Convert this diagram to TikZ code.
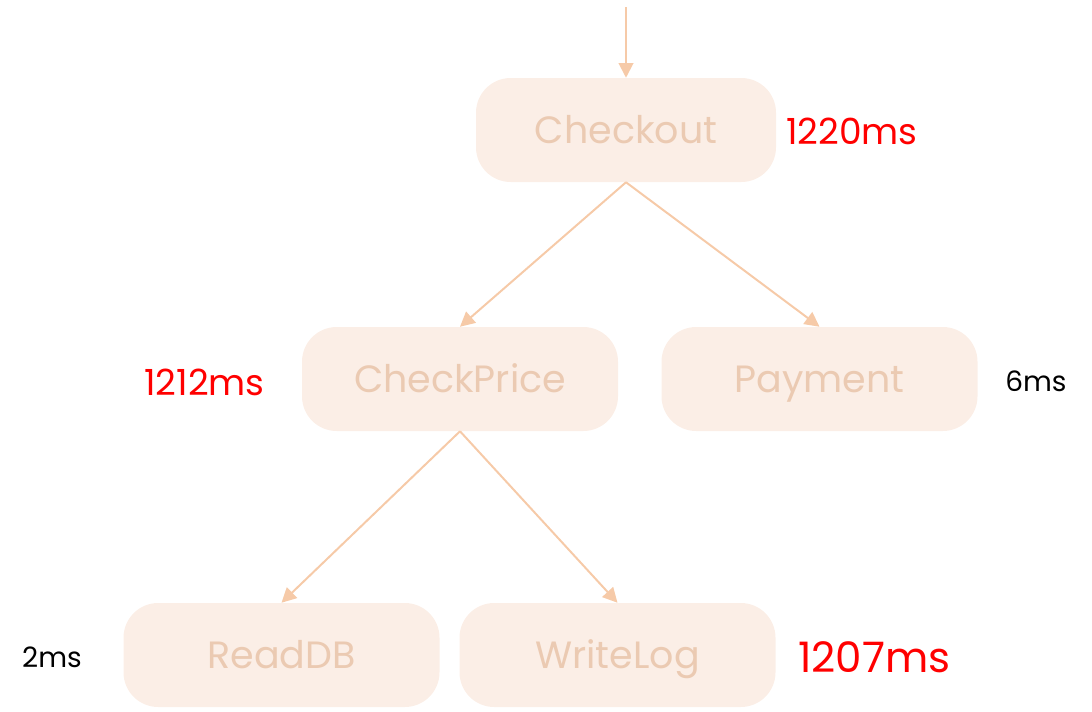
\documentclass[tikz,border=0pt]{standalone}
\usepackage{fontspec}
\setmainfont{Poppins}
\usetikzlibrary{arrows.meta}
\definecolor{boxfill}{RGB}{251,238,230}
\definecolor{boxtext}{RGB}{235,202,178}
\definecolor{linkcol}{RGB}{246,202,168}
\definecolor{hot}{RGB}{255,0,0}
\tikzset{
  svc/.style={fill=boxfill, draw=none, rounded corners=26pt, minimum height=78pt,
    minimum width=237pt, text=boxtext, font=\fontsize{28.5}{33}\selectfont, inner sep=0pt,
    text height=20pt, text depth=0pt},
  call/.style={draw=linkcol, line width=1.5pt, -{Triangle[length=11pt,width=11pt]}},
  lat/.style={font=\fontsize{27}{32}\selectfont, inner sep=0pt, text height=19pt, text depth=0pt},
  latsmall/.style={font=\fontsize{21}{25}\selectfont, inner sep=0pt, text height=14.7pt, text depth=0pt},
}
\begin{document}
\begin{tikzpicture}[x=0.75pt,y=-0.75pt]
\useasboundingbox (0,0) rectangle (1092,711);
% service call tree
\node[svc, minimum width=225pt] (ck) at (626,130) {Checkout};
\node[svc] (cp) at (460,379) {CheckPrice};
\node[svc] (pay) at (819.5,379) {Payment};
\node[svc] (rd) at (281.5,655) {ReadDB};
\node[svc] (wl) at (617.5,655) {WriteLog};
% entry point
\coordinate (entry) at (626,7);
\draw[call] (entry) -- (ck.north);
\draw[call] (ck.south) -- (cp.north);
\draw[call] (ck.south) -- (pay.north);
\draw[call] (cp.south) -- (rd.north);
\draw[call] (cp.south) -- (wl.north);
% latencies
\node[lat, text=hot, anchor=west] (tck) at (786,132) {1220ms};
\node[lat, text=hot, anchor=east] (tcp) at (265,383) {1212ms};
\node[latsmall, anchor=west] (tpay) at (1005,382) {6ms};
\node[latsmall, anchor=east] (trd) at (82,658) {2ms};
\node[lat, text=hot, anchor=west, font=\fontsize{31.5}{36}\selectfont, text height=22pt] (twl) at (798,658) {1207ms};
\end{tikzpicture}
\end{document}
